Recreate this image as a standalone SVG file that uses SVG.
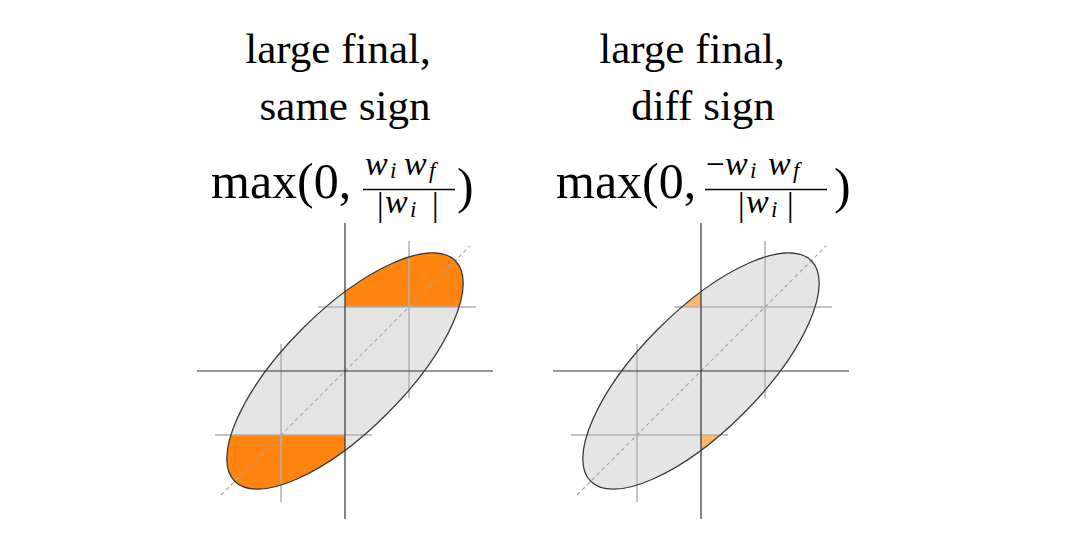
<svg xmlns="http://www.w3.org/2000/svg" width="1080" height="542" viewBox="0 0 1080 542">
  <style>
    .title { font-family: "Liberation Serif", "Times New Roman", serif; font-size: 43px; fill: #000; text-anchor: middle; }
    .math { font-family: "Liberation Serif", "Times New Roman", serif; font-size: 50px; fill: #000; }
    .num { font-family: "Liberation Serif", "Times New Roman", serif; font-size: 34px; font-style: italic; fill: #000; }
    .sub { font-family: "Liberation Serif", "Times New Roman", serif; font-size: 23px; font-style: italic; fill: #000; }
    .up { font-family: "Liberation Serif", "Times New Roman", serif; font-size: 33px; fill: #000; }
    .ell { fill: #e5e5e5; stroke: none; }
    .ello { fill: none; stroke: #3a3a3a; stroke-width: 1.3; }
    .axis { stroke: #333; stroke-width: 1.2; fill: none; }
    .grid { stroke: #b0b0b0; stroke-width: 1.5; fill: none; }
    .diag { stroke: #a8a8a8; stroke-width: 1.2; stroke-dasharray: 4 3; fill: none; }
    .bar { stroke: #000; stroke-width: 1.4; }
  </style>
  <defs>
    <clipPath id="clipL">
      <ellipse cx="345" cy="371" rx="156" ry="60" transform="rotate(-45 345 371)"/>
    </clipPath>
    <clipPath id="clipR">
      <ellipse cx="701" cy="371" rx="156" ry="60" transform="rotate(-45 701 371)"/>
    </clipPath>
  </defs>
  <rect width="1080" height="542" fill="#fff"/>

  <g id="left-title">
    <text class="title" x="338" y="63">large final,</text>
    <text class="title" x="345" y="120">same sign</text>
  </g>
  <g id="left-formula">
    <text class="math" x="211" y="198">max(0,</text>
    <line class="bar" x1="363" y1="189.5" x2="455" y2="189.5"/>
    <text class="num" x="365" y="175">w</text>
    <text class="sub" x="390" y="178">i</text>
    <text class="num" x="404" y="175">w</text>
    <text class="sub" x="429" y="178">f</text>
    <text class="up" x="377" y="216">|</text>
    <text class="num" x="385" y="213">w</text>
    <text class="sub" x="410" y="217">i</text>
    <text class="up" x="432" y="216">|</text>
    <text class="math" x="457" y="203">)</text>
  </g>
  <g id="left-plot">
    <ellipse class="ell" cx="345" cy="371" rx="156" ry="60" transform="rotate(-45 345 371)"/>
    <g clip-path="url(#clipL)" fill="#ff8410">
      <rect x="345" y="171" width="200" height="136"/>
      <rect x="145" y="435" width="200" height="136"/>
    </g>
    <line class="grid" x1="281" y1="344" x2="281" y2="502"/>
    <line class="grid" x1="409" y1="241" x2="409" y2="398"/>
    <line class="grid" x1="318" y1="307" x2="476" y2="307"/>
    <line class="grid" x1="215" y1="435" x2="372" y2="435"/>
    <line class="diag" x1="221" y1="495" x2="470" y2="246"/>
    <line class="axis" x1="345" y1="223" x2="345" y2="519"/>
    <line class="axis" x1="197" y1="371" x2="493" y2="371"/>
    <ellipse class="ello" cx="345" cy="371" rx="156" ry="60" transform="rotate(-45 345 371)"/>
  </g>

  <g id="right-title">
    <text class="title" x="692" y="63">large final,</text>
    <text class="title" x="703" y="120">diff sign</text>
  </g>
  <g id="right-formula">
    <text class="math" x="556" y="198">max(0,</text>
    <line class="bar" x1="705" y1="189.5" x2="827" y2="189.5"/>
    <text class="up" x="706" y="175">−</text>
    <text class="num" x="725" y="175">w</text>
    <text class="sub" x="750" y="178">i</text>
    <text class="num" x="768" y="175">w</text>
    <text class="sub" x="793" y="178">f</text>
    <text class="up" x="738" y="216">|</text>
    <text class="num" x="746" y="213">w</text>
    <text class="sub" x="771" y="217">i</text>
    <text class="up" x="787" y="216">|</text>
    <text class="math" x="834" y="203">)</text>
  </g>
  <g id="right-plot">
    <ellipse class="ell" cx="701" cy="371" rx="156" ry="60" transform="rotate(-45 701 371)"/>
    <g clip-path="url(#clipR)" fill="#fdb66c">
      <rect x="501" y="171" width="200" height="136"/>
      <rect x="701" y="435" width="200" height="136"/>
    </g>
    <line class="grid" x1="637" y1="344" x2="637" y2="502"/>
    <line class="grid" x1="765" y1="241" x2="765" y2="398"/>
    <line class="grid" x1="674" y1="307" x2="832" y2="307"/>
    <line class="grid" x1="571" y1="435" x2="728" y2="435"/>
    <line class="diag" x1="577" y1="495" x2="826" y2="246"/>
    <line class="axis" x1="701" y1="223" x2="701" y2="519"/>
    <line class="axis" x1="553" y1="371" x2="849" y2="371"/>
    <ellipse class="ello" cx="701" cy="371" rx="156" ry="60" transform="rotate(-45 701 371)"/>
  </g>
</svg>
